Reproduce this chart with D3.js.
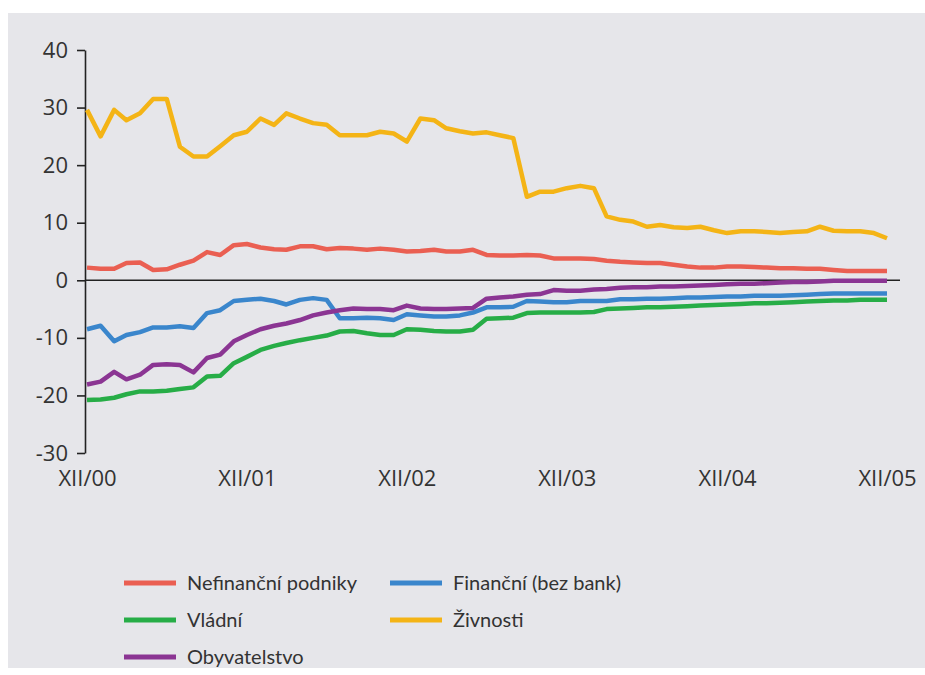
<!DOCTYPE html>
<html>
<head>
<meta charset="utf-8">
<script src="https://cdn.jsdelivr.net/npm/d3@7"></script>
<style>
  body { margin: 0; background: #fff; }
  svg { display: block; font-family: "Open Sans", sans-serif; }
</style>
</head>
<body>
<svg id="chart" width="925" height="675"></svg>
<script>
// monthly values, XII/2000 .. XII/2005 (61 points)
var nefinancni = [2.2,2.0,2.0,3.0,3.1,1.8,1.9,2.7,3.4,4.9,4.4,6.1,6.3,5.7,5.4,5.3,5.9,5.9,5.4,5.6,5.5,
  5.3,5.5,5.3,5.0,5.1,5.3,5.0,5.0,5.3,4.4,4.3,4.3,4.4,4.3,3.8,3.8,3.8,3.7,3.4,3.2,
  3.1,3.0,3.0,2.7,2.4,2.2,2.2,2.4,2.4,2.3,2.2,2.1,2.1,2.0,2.0,1.8,1.6,1.6,1.6,1.6]
var financni = [-8.5,-7.9,-10.6,-9.5,-9.0,-8.2,-8.2,-8.0,-8.3,-5.7,-5.2,-3.6,-3.4,-3.2,-3.6,-4.2,-3.4,-3.1,-3.4,-6.6,-6.6,
  -6.5,-6.6,-6.9,-5.9,-6.1,-6.3,-6.3,-6.1,-5.6,-4.7,-4.7,-4.6,-3.6,-3.7,-3.8,-3.8,-3.6,-3.6,-3.6,-3.3,
  -3.3,-3.2,-3.2,-3.1,-3.0,-3.0,-2.9,-2.8,-2.8,-2.7,-2.7,-2.7,-2.6,-2.5,-2.4,-2.3,-2.3,-2.3,-2.3,-2.3]
var vladni = [-20.8,-20.7,-20.4,-19.8,-19.3,-19.3,-19.2,-18.9,-18.6,-16.7,-16.6,-14.4,-13.3,-12.1,-11.4,-10.9,-10.4,-10.0,-9.6,-8.9,-8.8,
  -9.2,-9.5,-9.5,-8.5,-8.6,-8.8,-8.9,-8.9,-8.6,-6.7,-6.6,-6.5,-5.7,-5.6,-5.6,-5.6,-5.6,-5.5,-5.0,-4.9,
  -4.8,-4.7,-4.7,-4.6,-4.5,-4.4,-4.3,-4.2,-4.1,-4.0,-4.0,-3.9,-3.8,-3.7,-3.6,-3.5,-3.5,-3.4,-3.4,-3.4]
var zivnosti = [29.6,25.0,29.6,27.8,29.0,31.5,31.5,23.2,21.5,21.5,23.3,25.2,25.8,28.1,27.0,29.0,28.1,27.3,27.0,25.2,25.2,
  25.2,25.8,25.5,24.1,28.1,27.8,26.4,25.9,25.5,25.7,25.2,24.7,14.5,15.4,15.4,16.0,16.4,16.0,11.1,10.5,
  10.2,9.3,9.6,9.2,9.1,9.3,8.7,8.2,8.5,8.5,8.4,8.2,8.4,8.5,9.3,8.6,8.5,8.5,8.2,7.3]
var obyvatelstvo = [-18.1,-17.6,-15.9,-17.2,-16.4,-14.7,-14.6,-14.7,-16.0,-13.5,-12.9,-10.6,-9.5,-8.5,-7.9,-7.5,-6.9,-6.1,-5.6,-5.2,-4.9,
  -5.0,-5.0,-5.2,-4.4,-4.9,-5.0,-5.0,-4.9,-4.8,-3.2,-3.0,-2.8,-2.5,-2.4,-1.7,-1.8,-1.8,-1.6,-1.5,-1.3,
  -1.2,-1.2,-1.1,-1.1,-1.0,-0.9,-0.8,-0.7,-0.6,-0.6,-0.5,-0.4,-0.3,-0.3,-0.2,-0.1,-0.1,-0.1,-0.1,-0.1]

var yTicks = [-30, -20, -10, 0, 10, 20, 30, 40]
var xTickLabels = ["XII/00", "XII/01", "XII/02", "XII/03", "XII/04", "XII/05"]

var series = [
  {name: "Nefinanční podniky", values: nefinancni, color: "#ea5f52"},
  {name: "Finanční (bez bank)", values: financni, color: "#3a86cc"},
  {name: "Vládní", values: vladni, color: "#27ad47"},
  {name: "Živnosti", values: zivnosti, color: "#f4b416"},
  {name: "Obyvatelstvo", values: obyvatelstvo, color: "#8b3593"}
]

var months = d3.range(61).map(function(i) { return new Date(2000, 11 + i, 1) })

var svg = d3.select("#chart")

// grey panel
svg.append("rect").attr("x", 8).attr("y", 13).attr("width", 917).attr("height", 655).attr("fill", "#e6e6ea")

var x = d3.scaleTime().domain([months[0], months[60]]).range([87, 887])
var y = d3.scaleLinear().domain([-30, 40]).range([453, 50])

// y axis (plain hyphen minus like the original)
var yAxis = d3.axisLeft(y).tickValues(yTicks).tickSize(8).tickSizeOuter(0).tickPadding(9)
  .tickFormat(function(d) { return String(d) })
var gy = svg.append("g").attr("transform", "translate(85,0)").call(yAxis)
gy.select(".domain").attr("stroke", "#222").attr("stroke-width", 1.6)
gy.selectAll(".tick line").attr("stroke", "#222").attr("stroke-width", 1.6)
gy.selectAll(".tick text").attr("font-size", 22).attr("fill", "#333").style("font-family", "Open Sans, sans-serif")

// x labels (no axis line)
var xTickDates = xTickLabels.map(function(d, i) { return months[i * 12] })
var xAxis = d3.axisBottom(x).tickValues(xTickDates).tickSize(0).tickPadding(0)
  .tickFormat(function(d, i) { return xTickLabels[i] })
var gx = svg.append("g").attr("transform", "translate(0,470)").call(xAxis)
gx.select(".domain").remove()
gx.selectAll(".tick text").attr("font-size", 22).attr("fill", "#333").style("font-family", "Open Sans, sans-serif")

// zero line
svg.append("line").attr("x1", 85).attr("x2", 900).attr("y1", y(0)).attr("y2", y(0))
  .attr("stroke", "#222").attr("stroke-width", 1.6)

var line = d3.line()
  .x(function(d, i) { return x(months[i]) })
  .y(function(d) { return y(d) })

svg.selectAll(".series").data(series).enter().append("path")
  .attr("class", "series")
  .attr("d", function(s) { return line(s.values) })
  .attr("fill", "none")
  .attr("stroke", function(s) { return s.color })
  .attr("stroke-width", 4.5)
  .attr("stroke-linejoin", "round")

// legend
var legendPos = [[124, 583], [390, 583], [124, 620], [390, 620], [124, 657]]
var lg = svg.selectAll(".legend").data(series).enter().append("g")
  .attr("class", "legend")
  .attr("transform", function(s, i) { return "translate(" + legendPos[i][0] + "," + legendPos[i][1] + ")" })
lg.append("line").attr("x1", 0).attr("x2", 52).attr("y1", 0).attr("y2", 0)
  .attr("stroke", function(s) { return s.color }).attr("stroke-width", 5)
lg.append("text").attr("x", 63).attr("y", 0).attr("dy", "0.35em")
  .attr("font-size", 20).attr("fill", "#333").style("font-family", "Lato, sans-serif")
  .text(function(s) { return s.name })
</script>
</body>
</html>
